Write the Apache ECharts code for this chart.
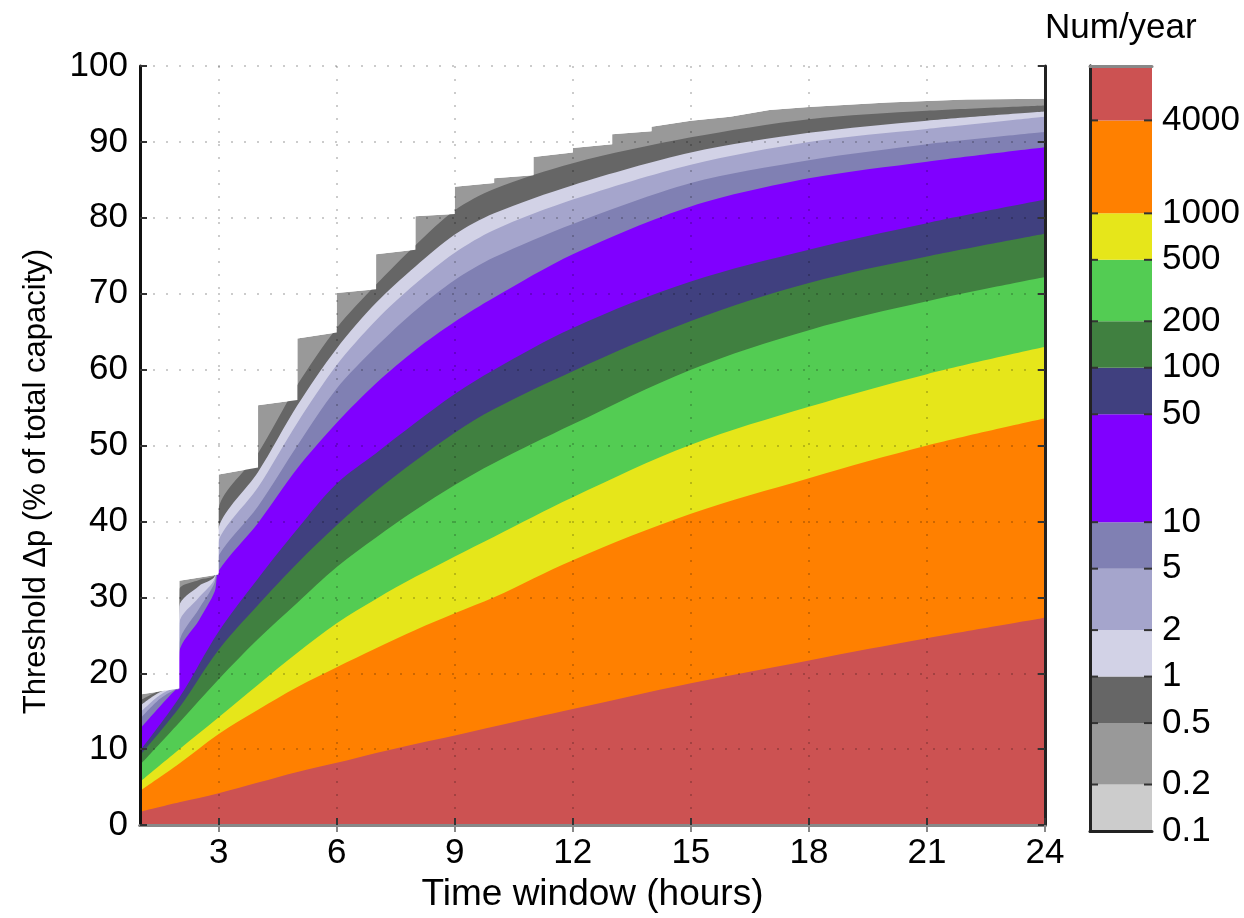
<!DOCTYPE html>
<html>
<head>
<meta charset="utf-8">
<script src="https://cdn.jsdelivr.net/npm/echarts@6/dist/echarts.min.js"></script>
<style>
  html, body { margin: 0; padding: 0; background: #fff; }
  #chart { width: 1244px; height: 918px; }
</style>
</head>
<body>
<div id="chart"></div>
<script>
// contour levels (Num/year) and the band colours between them
const cbLevels = [0.1, 0.2, 0.5, 1, 2, 5, 10, 50, 100, 200, 500, 1000, 4000, 9000];
const cbLabels = ['0.1', '0.2', '0.5', '1', '2', '5', '10', '50', '100', '200', '500', '1000', '4000'];
const cbColors = ['#cccccc', '#999999', '#666666', '#d2d2e6', '#a5a5cc', '#8080b3', '#8000ff',
                  '#40407f', '#408040', '#53cc53', '#e6e61a', '#ff8000', '#cc5252'];

const xTicks = [3, 6, 9, 12, 15, 18, 21, 24];

// outer contour (0.2/year) - staircase, duplicated x = vertical jump
const xStep = [1, 2, 2, 3, 3, 4, 4, 5, 5, 6, 6, 7, 7, 8, 8, 9, 9, 10, 10, 11, 11, 12, 12, 13, 13, 14, 14, 15, 16, 17, 18, 19, 20, 21, 22, 24];
const c02 = [17.2, 18.0, 32.2, 33.0, 46.2, 47.1, 55.3, 56.0, 64.1, 64.9, 70.1, 70.6, 75.2, 75.8, 80.2, 80.5, 84.1, 84.6, 85.2, 85.6,
             88.0, 88.6, 89.2, 89.7, 91.0, 91.4, 92.0, 92.8, 93.3, 94.2, 94.6, 94.9, 95.2, 95.4, 95.6, 95.7];

// light contours, step just before x = 2
const xUpper = [1, 1.5, 1.9, 1.98, 2, 2.5, 2.9, 3, 4, 5, 6, 7, 8, 9, 10, 12, 15, 18, 21, 24];
const c05 = [16.4, 17.7, 18.0, 18.0, 31.0, 32.3, 33.0, 41.8, 49.0, 58.0, 65.5, 71.2, 76.4, 81.0, 83.8, 87.2, 90.6, 93.0, 94.1, 94.8];
const c1  = [15.7, 17.5, 18.0, 18.0, 28.8, 31.5, 32.8, 39.2, 46.5, 55.3, 62.8, 68.8, 73.6, 77.8, 80.6, 84.3, 88.6, 91.2, 92.8, 94.0];
const c2  = [14.8, 17.1, 18.0, 18.0, 26.6, 30.0, 32.5, 37.5, 44.5, 53.0, 60.6, 66.5, 71.3, 75.4, 78.4, 82.4, 87.0, 90.0, 91.7, 93.3];
const c5  = [14.0, 16.6, 17.9, 18.0, 24.0, 28.5, 32.0, 35.5, 42.0, 50.0, 57.5, 63.0, 67.8, 71.8, 74.8, 79.2, 84.6, 87.6, 89.7, 91.3];
const c10 = [12.7, 15.6, 17.8, 17.9, 22.8, 27.0, 30.8, 33.5, 39.8, 47.0, 53.0, 58.2, 62.6, 66.3, 69.5, 75.2, 81.5, 85.2, 87.4, 89.3];

// inner contours
const xs = [1, 2, 3, 4, 5, 6, 7, 8, 9, 10, 12, 15, 18, 21, 24];
const c50   = [9.8, 16.8, 25.5, 32.5, 39.0, 45.0, 49.0, 53.0, 56.8, 60.0, 65.5, 71.6, 75.8, 79.3, 82.4];
const c100  = [9.2, 15.5, 23.1, 29.0, 34.5, 39.5, 44.0, 48.0, 51.7, 54.8, 59.8, 66.4, 71.4, 74.9, 77.9];
const c200  = [7.9, 13.5, 19.2, 24.5, 29.3, 34.0, 37.9, 41.5, 44.8, 47.7, 52.8, 60.0, 65.2, 69.0, 72.2];
const c500  = [5.7, 10.0, 14.2, 18.5, 22.7, 26.6, 29.8, 32.7, 35.4, 38.0, 43.2, 50.1, 55.1, 59.4, 63.0];
const c1000 = [4.5, 8.1, 12.0, 15.2, 18.2, 20.8, 23.3, 25.7, 27.9, 30.0, 34.9, 41.0, 45.7, 50.0, 53.6];
const c4000 = [1.75, 3.0, 4.2, 5.6, 7.0, 8.2, 9.5, 10.7, 11.8, 13.0, 15.3, 18.7, 21.7, 24.6, 27.3];

const FONT = "'Liberation Sans', Arial, sans-serif";

function pairs(xArr, yArr) {
  return xArr.map((x, i) => [x, yArr[i]]);
}

// each contour is filled down to 0, drawn from the outermost inwards
const contours = [
  { level: 0.2, x: xStep, y: c02, smooth: false },
  { level: 0.5, x: xUpper, y: c05, smooth: 0.3 },
  { level: 1, x: xUpper, y: c1, smooth: 0.3 },
  { level: 2, x: xUpper, y: c2, smooth: 0.3 },
  { level: 5, x: xUpper, y: c5, smooth: 0.3 },
  { level: 10, x: xUpper, y: c10, smooth: 0.3 },
  { level: 50, x: xs, y: c50, smooth: 0.35 },
  { level: 100, x: xs, y: c100, smooth: 0.35 },
  { level: 200, x: xs, y: c200, smooth: 0.35 },
  { level: 500, x: xs, y: c500, smooth: 0.35 },
  { level: 1000, x: xs, y: c1000, smooth: 0.35 },
  { level: 4000, x: xs, y: c4000, smooth: 0.35 },
];

const series = contours.map((c) => ({
  type: 'line',
  xAxisIndex: 0,
  yAxisIndex: 0,
  data: pairs(c.x, c.y),
  smooth: c.smooth,
  symbol: 'none',
  silent: true,
  animation: false,
  lineStyle: { width: 0 },
  areaStyle: { color: cbColors[cbLevels.indexOf(c.level)], opacity: 1 },
}));

// white above the outer contour (no data there)
series.push({
  type: 'line',
  xAxisIndex: 0,
  yAxisIndex: 0,
  data: pairs(xStep, c02),
  symbol: 'none',
  silent: true,
  animation: false,
  lineStyle: { width: 0 },
  areaStyle: { color: '#ffffff', opacity: 1, origin: 'end' },
});

// colour bar
series.push({
  type: 'custom',
  xAxisIndex: 2,
  yAxisIndex: 2,
  silent: true,
  animation: false,
  data: cbColors.map((c, i) => [cbLevels[i], cbLevels[i + 1], i]),
  renderItem(params, api) {
    const i = api.value(2);
    const top = api.coord([0, api.value(1)]);
    const bot = api.coord([1, api.value(0)]);
    const children = [
      {
        type: 'rect',
        shape: { x: top[0], y: top[1], width: bot[0] - top[0], height: bot[1] - top[1] },
        style: { fill: cbColors[i] },
      },
      {
        type: 'text',
        x: bot[0] + 10,
        y: bot[1],
        style: { text: cbLabels[i], fill: '#000', fontSize: 35, fontFamily: FONT, verticalAlign: 'middle' },
        z2: 10,
      },
    ];
    if (i > 0) {
      children.push(
        { type: 'line', shape: { x1: top[0], y1: bot[1], x2: top[0] + 8, y2: bot[1] }, style: { stroke: '#333', lineWidth: 2 }, z2: 5 },
        { type: 'line', shape: { x1: bot[0] - 8, y1: bot[1], x2: bot[0], y2: bot[1] }, style: { stroke: '#333', lineWidth: 2 }, z2: 5 }
      );
    }
    return { type: 'group', children };
  },
});

const gridLine = { show: true, lineStyle: { color: 'rgba(0,0,0,0.2)', type: [2, 11], width: 2 } };
const tickStyle = { show: true, inside: true, length: 7, lineStyle: { color: '#333', width: 2 } };

const option = {
  backgroundColor: '#ffffff',
  animation: false,
  title: {
    text: 'Num/year',
    left: 1040,
    top: 6,
    textStyle: { fontSize: 35, fontWeight: 'normal', color: '#000', fontFamily: FONT },
  },
  grid: [
    { left: 140, top: 66, width: 905, height: 764 },
    { left: 1090, top: 66, width: 62, height: 765 },
  ],
  xAxis: [
    {
      gridIndex: 0, type: 'value', min: 1, max: 24, z: 5,
      name: 'Time window (hours)', nameLocation: 'middle', nameGap: 22,
      nameTextStyle: { fontSize: 37, color: '#000', fontFamily: FONT, verticalAlign: 'top' },
      axisLine: { lineStyle: { color: '#222', width: 3 } },
      axisTick: { ...tickStyle, customValues: xTicks },
      axisLabel: { customValues: xTicks, fontSize: 35, color: '#000', fontFamily: FONT, margin: 11 },
      splitLine: gridLine,
    },
    {
      gridIndex: 0, type: 'value', min: 1, max: 24, position: 'top', z: 5,
      axisLine: { lineStyle: { color: '#888', width: 3 } },
      axisTick: { ...tickStyle, customValues: xTicks, lineStyle: { color: '#888', width: 2 } },
      axisLabel: { show: false },
      splitLine: { show: false },
    },
    {
      gridIndex: 1, type: 'value', min: 0, max: 1, z: 5,
      axisLine: { lineStyle: { color: '#222', width: 3 } },
      axisTick: { show: false }, axisLabel: { show: false }, splitLine: { show: false },
    },
    {
      gridIndex: 1, type: 'value', min: 0, max: 1, position: 'top', z: 5,
      axisLine: { lineStyle: { color: '#888', width: 3 } },
      axisTick: { show: false }, axisLabel: { show: false }, splitLine: { show: false },
    },
  ],
  yAxis: [
    {
      gridIndex: 0, type: 'value', min: 0, max: 100, interval: 10, z: 5,
      name: 'Threshold \u0394p (% of total capacity)', nameLocation: 'middle', nameGap: 88,
      nameTextStyle: { fontSize: 31, color: '#000', fontFamily: FONT, padding: [0, 72, 0, 0] },
      axisLine: { show: true, lineStyle: { color: '#111', width: 3 } },
      axisTick: tickStyle,
      axisLabel: { fontSize: 35, color: '#000', fontFamily: FONT, margin: 12 },
      splitLine: gridLine,
    },
    {
      gridIndex: 0, type: 'value', min: 0, max: 100, interval: 10, position: 'right', z: 5,
      axisLine: { show: true, lineStyle: { color: '#222', width: 3 } },
      axisTick: tickStyle,
      axisLabel: { show: false },
      splitLine: { show: false },
    },
    {
      gridIndex: 1, type: 'log', min: 0.1, max: 9000, z: 5,
      axisLine: { show: true, lineStyle: { color: '#222', width: 3 } },
      axisTick: { show: false }, axisLabel: { show: false }, splitLine: { show: false },
    },
    {
      gridIndex: 1, type: 'log', min: 0.1, max: 9000, position: 'right', z: 5,
      axisLine: { show: true, lineStyle: { color: '#222', width: 3 } },
      axisTick: { show: false }, axisLabel: { show: false }, splitLine: { show: false },
    },
  ],
  series,
};

const chart = echarts.init(document.getElementById('chart'));
chart.setOption(option);
</script>
</body>
</html>
